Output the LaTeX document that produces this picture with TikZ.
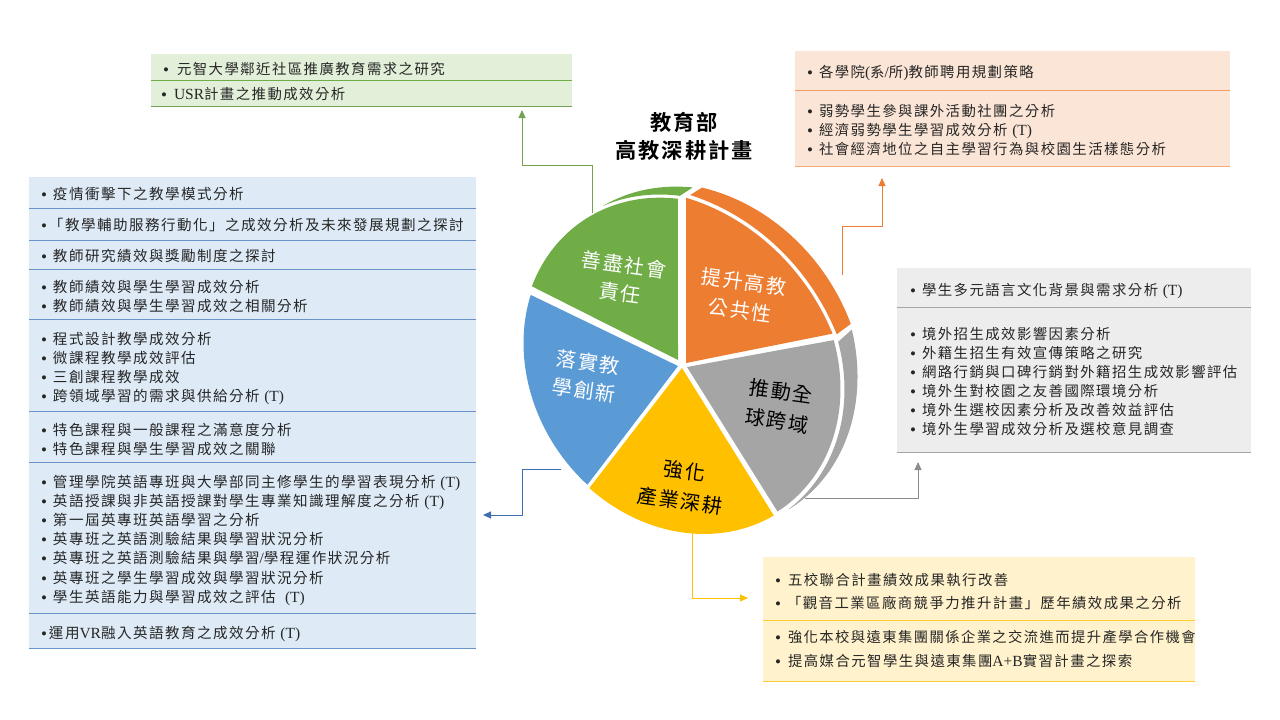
\documentclass[tikz,border=0pt]{standalone}
\usepackage{fontspec}
\setmainfont[LetterSpace=10,BoldFont={Noto Sans CJK TC Bold}]{Noto Sans CJK TC}
\newfontfamily\latfont{Liberation Serif}
\usetikzlibrary{arrows.meta}
\definecolor{cgreen}{HTML}{70AD47}
\definecolor{corange}{HTML}{ED7D31}
\definecolor{cblue}{HTML}{5B9BD5}
\definecolor{cyellow}{HTML}{FFC000}
\definecolor{cgray}{HTML}{A5A5A5}
\definecolor{fgreen}{HTML}{E2F0D9}
\definecolor{forange}{HTML}{FBE5D6}
\definecolor{fgray}{HTML}{EDEDED}
\definecolor{fyellow}{HTML}{FFF2CC}
\definecolor{fblue}{HTML}{DEEBF7}
\definecolor{lblue}{HTML}{6A94C8}
\definecolor{arrblue}{HTML}{3F6FB0}
\newcommand\La[1]{{\latfont\fontsize{15.5}{15.5}\selectfont #1}}
\newcommand\Bu[1]{\makebox[#1pt][l]{\raisebox{-1pt}{\latfont\fontsize{17}{17}\selectfont •}}}
\newcommand\TL[4]{\node[tl] (#1) at (#2,#3+5) {#4};}
\newcommand\TB[3]{\node[tl,font=\fontsize{14.55}{16}\selectfont] (#1) at (41,#2+5) {#3};}
\tikzset{
  tl/.style={anchor=base west,inner sep=0pt,outer sep=0pt,font=\fontsize{14.4}{16}\selectfont,text=black!85},
  conn/.style={line width=1pt,-{Triangle[length=8pt,width=7pt]}},
  piel/.style={align=center,inner sep=0pt,rotate=-8,font=\fontsize{20}{#1}\selectfont},
  piel/.default=28,
  rule/.style={line width=1pt},
  declare function={
    ex(\t,\s)=682+\s*(175*cos(\t)*cos(125)-151*sin(\t)*sin(125));
    ey(\t,\s)=366-\s*(175*cos(\t)*sin(125)+151*sin(\t)*cos(125));
    so(\t)=.975+.04*(\t+80)*(\t+80)/1444;
    sb(\t)=1.10+(-45.6-\t)*.033/62.7;
    sg(\t)=1.128+(\t+110)*.10/64;
    sc(\t)=1.024+(-10-\t)*.00195;
  },
  arcplot/.style={domain=#1,samples=48,variable=\t}
}
\begin{document}
\begin{tikzpicture}[x=1pt,y=-1pt]
\useasboundingbox (0,0) rectangle (1280,720);
% ---- boxes
\fill[fgreen] (151,54) rectangle (572,106);
\draw[rule,cgreen] (151,80) -- (572,80);
\draw[rule,cgreen!70!gray] (151,106.5) -- (572,106.5);
\fill[forange] (795,51) rectangle (1230,166);
\draw[rule,corange!75] (795,90.5) -- (1230,90.5);
\draw[rule,corange!65] (795,166) -- (1230,166);
\fill[fgray] (897,268) rectangle (1251,452.5);
\draw[rule,cgray] (897,307.7) -- (1251,307.7);
\draw[rule,cgray] (897,452.5) -- (1251,452.5);
\fill[fyellow] (763,557) rectangle (1195,681);
\draw[rule,cyellow!80] (763,620) -- (1195,620);
\draw[rule,cyellow!80] (763,681) -- (1195,681);
\fill[fblue] (29,177) rectangle (476,648);
\foreach \yy in {208.7,240.3,269.3,319.7,411.7,462,613.5,648}
  \draw[rule,lblue] (29,\yy) -- (476,\yy);
% ---- pie wedges (one tilted ellipse)
\fill[cgreen] (678,360) -- plot[arcplot=-37.6:30.6] ({ex(\t,1.005)},{ey(\t,1.005)}) -- cycle;
\fill[cgreen] plot[arcplot=-10:-42.6] ({ex(\t,sc(\t))},{ey(\t,sc(\t))}) -- plot[arcplot=-38.3:-10] ({ex(\t,1.024)},{ey(\t,1.024)}) -- cycle;
\fill[corange] (686,363) -- plot[arcplot=-40.5:-110] ({ex(\t,so(\t))},{ey(\t,so(\t))}) -- cycle;
\fill[corange] plot[arcplot=-45.6:-108.3] ({ex(\t,sb(\t))},{ey(\t,sb(\t))}) -- plot[arcplot=-110.5:-41.9] ({ex(\t,so(\t)+.024)},{ey(\t,so(\t)+.024)}) -- cycle;
\fill[cgray] (687,367) -- plot[arcplot=-112.2:-182] ({ex(\t,.995)},{ey(\t,.995)}) -- cycle;
\fill[cgray] plot[arcplot=-110:-178] ({ex(\t,sg(\t))},{ey(\t,sg(\t))}) -- plot[arcplot=-178:-113] ({ex(\t,1.02)},{ey(\t,1.02)}) -- cycle;
\fill[cyellow] (682,368) -- plot[arcplot=-184:-254.5] ({ex(\t,1.003)},{ey(\t,1.003)}) -- cycle;
\fill[cblue] (678,366) -- plot[arcplot=33.6:104.3] ({ex(\t,.995)},{ey(\t,.995)}) -- cycle;
% ---- connectors
\coordinate (gs) at (592,213); \coordinate (gm) at (592,165); \coordinate (gn) at (522,165); \coordinate (ge) at (522,110);
\draw[conn,cgreen!80!gray] (gs) -- (gm) -- (gn) -- (ge);
\coordinate (os) at (842,275); \coordinate (om) at (842,226); \coordinate (on) at (882,226); \coordinate (oe) at (882,178);
\draw[conn,corange] (os) -- (om) -- (on) -- (oe);
\coordinate (ys) at (692,533); \coordinate (ym) at (692,598); \coordinate (ye) at (748,598);
\draw[conn,cyellow] (ys) -- (ym) -- (ye);
\coordinate (as) at (805,498); \coordinate (am) at (918,498); \coordinate (ae) at (918,462);
\draw[conn,black!45] (as) -- (am) -- (ae);
\coordinate (bs) at (561,469); \coordinate (bm) at (522,469); \coordinate (bn) at (522,515); \coordinate (be) at (483,515);
\draw[conn,arrblue] (bs) -- (bm) -- (bn) -- (be);
% ---- title and pie labels
\node[align=center,inner sep=0pt,font=\fontsize{21.2}{28}\selectfont\bfseries] (title) at (684,136) {教育部\\高教深耕計畫};
\node[piel=28,text=white] (lg) at (622,279) {善盡社會\\責任};
\node[piel=29,text=white] (lo) at (742,296) {提升高教\\公共性};
\node[piel=28.5,text=white] (lb) at (586,376) {落實教\\學創新};
\node[piel=30,text=black] (la) at (779,406) {推動全\\球跨域};
\node[piel=30,text=black] (ly) at (682,486) {強化\\產業深耕};
% ---- green text
\TL{g1}{163}{69}{\Bu{14}元智大學鄰近社區推廣教育需求之研究}
\TL{g2}{161}{94}{\Bu{13}\La{USR}計畫之推動成效分析}
% ---- orange text
\TL{o1}{807}{72}{\Bu{12}各學院\La{(}系\La{/}所\La{)}教師聘用規劃策略}
\TL{o2}{807}{111}{\Bu{12}弱勢學生參與課外活動社團之分析}
\TL{o3}{807}{130}{\Bu{12}經濟弱勢學生學習成效分析 \La{(T)}}
\TL{o4}{807}{149}{\Bu{12}社會經濟地位之自主學習行為與校園生活樣態分析}
% ---- gray text
\TL{a1}{910}{290}{\Bu{12}學生多元語言文化背景與需求分析 \La{(T)}}
\TL{a2}{910}{334}{\Bu{12}境外招生成效影響因素分析}
\TL{a3}{910}{353}{\Bu{12}外籍生招生有效宣傳策略之研究}
\TL{a4}{910}{372}{\Bu{12}網路行銷與口碑行銷對外籍招生成效影響評估}
\TL{a5}{910}{391}{\Bu{12}境外生對校園之友善國際環境分析}
\TL{a6}{910}{410}{\Bu{12}境外生選校因素分析及改善效益評估}
\TL{a7}{910}{429}{\Bu{12}境外生學習成效分析及選校意見調查}
% ---- yellow text
\TL{y1}{775}{580}{\Bu{13}五校聯合計畫績效成果執行改善}
\TL{y2}{775}{603}{\Bu{12}「觀音工業區廠商競爭力推升計畫」歷年績效成果之分析}
\TL{y3}{775}{637}{\Bu{13}{\fontsize{14.3}{16}\selectfont 強化本校與遠東集團關係企業之交流進而提升產學合作機會}}
\TL{y4}{775}{661}{\Bu{13}提高媒合元智學生與遠東集團\La{A+B}實習計畫之探索}
% ---- blue text
\TB{b1}{194}{\Bu{12}疫情衝擊下之教學模式分析}
\TB{b2}{225}{\Bu{8}「教學輔助服務行動化」之成效分析及未來發展規劃之探討}
\TB{b3}{256}{\Bu{12}教師研究績效與獎勵制度之探討}
\TB{b4}{287}{\Bu{12}教師績效與學生學習成效分析}
\TB{b5}{306}{\Bu{12}教師績效與學生學習成效之相關分析}
\TB{b6}{339}{\Bu{12}程式設計教學成效分析}
\TB{b7}{358}{\Bu{12}微課程教學成效評估}
\TB{b8}{377}{\Bu{12}三創課程教學成效}
\TB{b9}{396}{\Bu{12}跨領域學習的需求與供給分析 \La{(T)}}
\TB{b10}{430}{\Bu{12}特色課程與一般課程之滿意度分析}
\TB{b11}{449}{\Bu{12}特色課程與學生學習成效之關聯}
\TB{b12}{482}{\Bu{12}管理學院英語專班與大學部同主修學生的學習表現分析 \La{(T)}}
\TB{b13}{501}{\Bu{12}英語授課與非英語授課對學生專業知識理解度之分析 \La{(T)}}
\TB{b14}{520}{\Bu{12}第一屆英專班英語學習之分析}
\TB{b15}{539}{\Bu{12}英專班之英語測驗結果與學習狀況分析}
\TB{b16}{558}{\Bu{12}英專班之英語測驗結果與學習\La{/}學程運作狀況分析}
\TB{b17}{578}{\Bu{12}英專班之學生學習成效與學習狀況分析}
\TB{b18}{597}{\Bu{12}學生英語能力與學習成效之評估 \ \La{(T)}}
\TB{b19}{633}{\Bu{8}運用\La{VR}融入英語教育之成效分析 \La{(T)}}
\end{tikzpicture}
\end{document}
